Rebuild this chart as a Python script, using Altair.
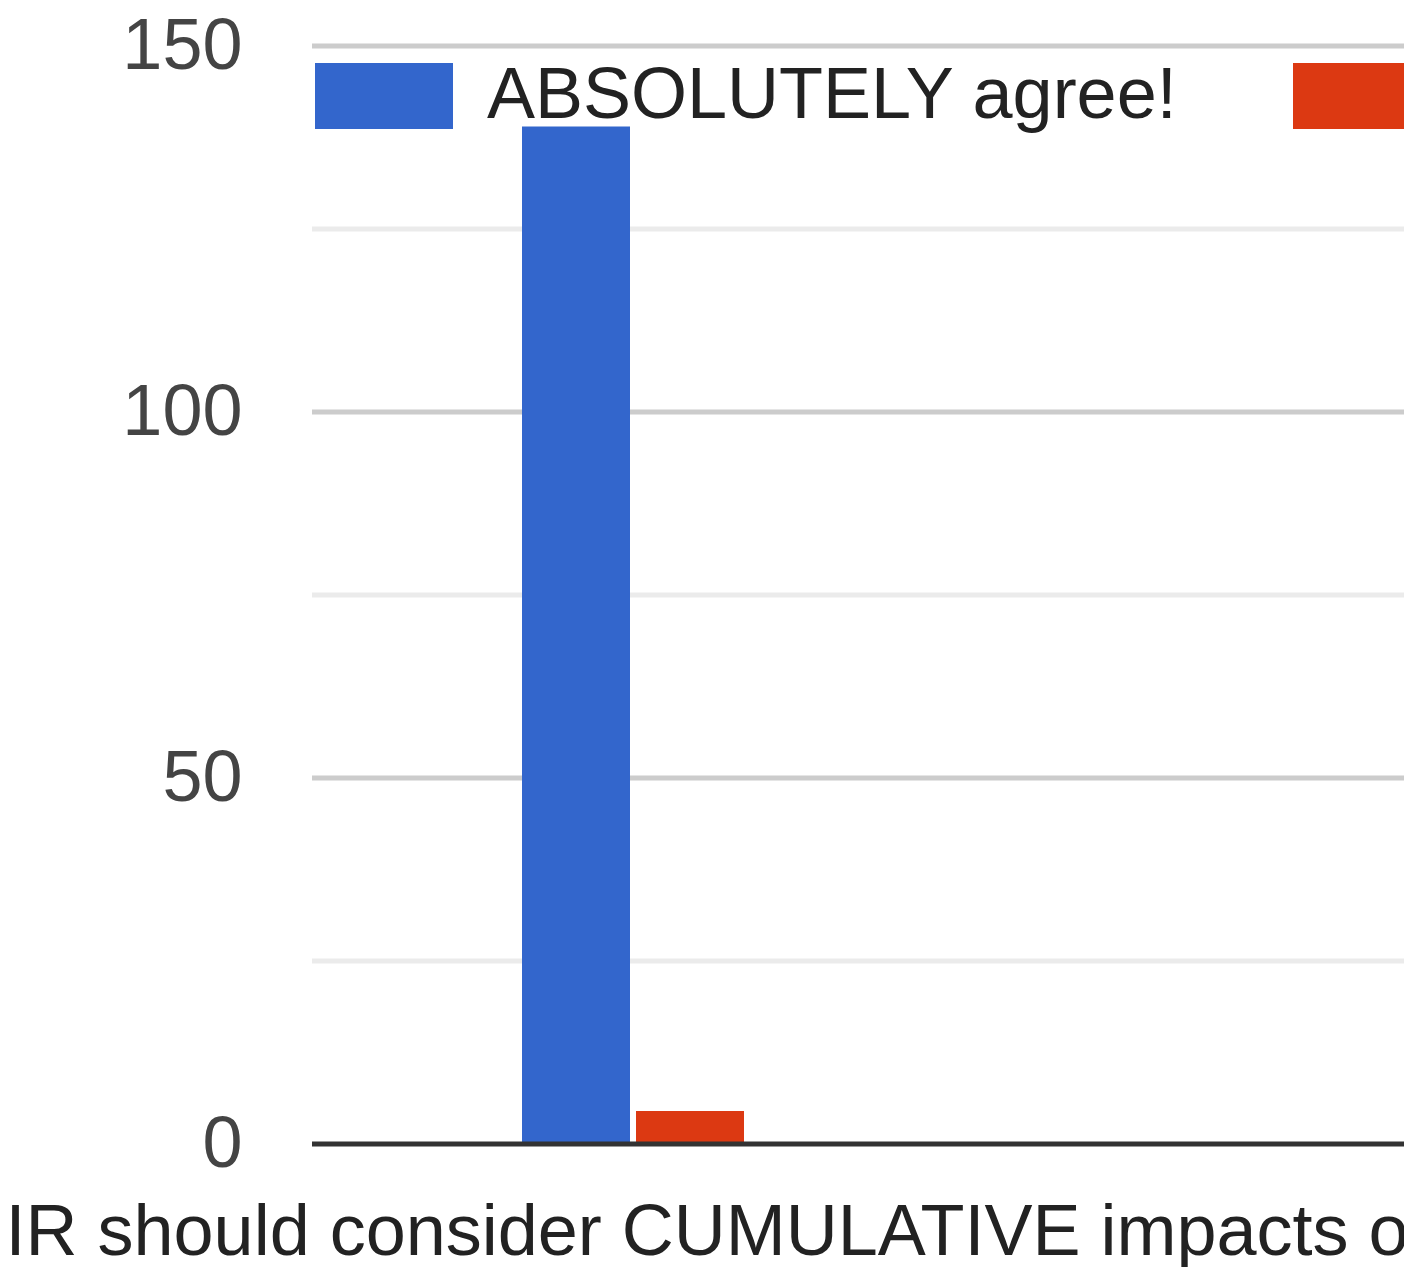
import altair as alt
import pandas as pd

# ---- data ----
series = ["ABSOLUTELY agree!", "Agree"]
counts = [139, 4.5]
colors = ["#3366cc", "#dc3912"]
question = "IR should consider CUMULATIVE impacts of"
y_ticks = [0, 25, 50, 75, 100, 125, 150]
grid_values = [25, 50, 75, 100, 125, 150]
baseline = [0]

df = pd.DataFrame({"answer": series, "count": counts})
df_grid = pd.DataFrame({"v": grid_values})
df_base = pd.DataFrame({"v": baseline})

FONT = "Liberation Sans"
W, H = 1092, 1098

y_scale = alt.Scale(domain=[0, 150], nice=False)

grid = alt.Chart(df_grid).mark_rule(strokeWidth=5).encode(
    y=alt.Y("v:Q", scale=y_scale),
    color=alt.condition("datum.v % 50 === 0", alt.value("#cccccc"), alt.value("#ebebeb")),
)

bars = alt.Chart(df).mark_bar().encode(
    x=alt.X(
        "answer:N",
        sort=series,
        scale=alt.Scale(range=[210, 432], paddingInner=6 / 114, paddingOuter=0),
        axis=alt.Axis(
            labels=False, ticks=False, tickSize=0, domain=False, grid=False,
            title=question, titleFont=FONT, titleFontSize=72,
            titleFontWeight="normal", titleColor="#222222",
            titleAlign="left", titleBaseline="alphabetic",
            titleX=-307, titleY=110, titleLimit=5000,
        ),
    ),
    y=alt.Y(
        "count:Q",
        scale=y_scale,
        axis=alt.Axis(
            values=y_ticks, title=None, domain=False, ticks=False, tickSize=0,
            labelExpr="datum.value % 50 === 0 ? datum.label : ''",
            labelFont=FONT, labelFontSize=72, labelColor="#444444",
            labelPadding=70, grid=False,
        ),
    ),
    color=alt.Color(
        "answer:N",
        sort=series,
        scale=alt.Scale(domain=series, range=colors),
        legend=alt.Legend(
            title=None, orient="none", direction="horizontal",
            legendX=3, legendY=-19,
            symbolType="M-1,-0.478H1V0.478H-1Z", symbolSize=19044,
            symbolStrokeWidth=0, symbolOpacity=1,
            labelFont=FONT, labelFontSize=72, labelColor="#222222",
            labelOffset=34, columnPadding=115, labelLimit=3000, padding=0,
        ),
    ),
)

base_rule = alt.Chart(df_base).mark_rule(color="#333333", strokeWidth=5).encode(
    y=alt.Y("v:Q", scale=y_scale)
)

chart = alt.layer(grid, bars, base_rule).properties(
    width=W, height=H,
    background="white",
    autosize=alt.AutoSizeParams(type="none"),
    padding={"left": 304, "top": 38, "right": 0, "bottom": 123},
).configure_view(stroke=None)

chart.save("out.html", embed_options={"renderer": "svg", "actions": False})
